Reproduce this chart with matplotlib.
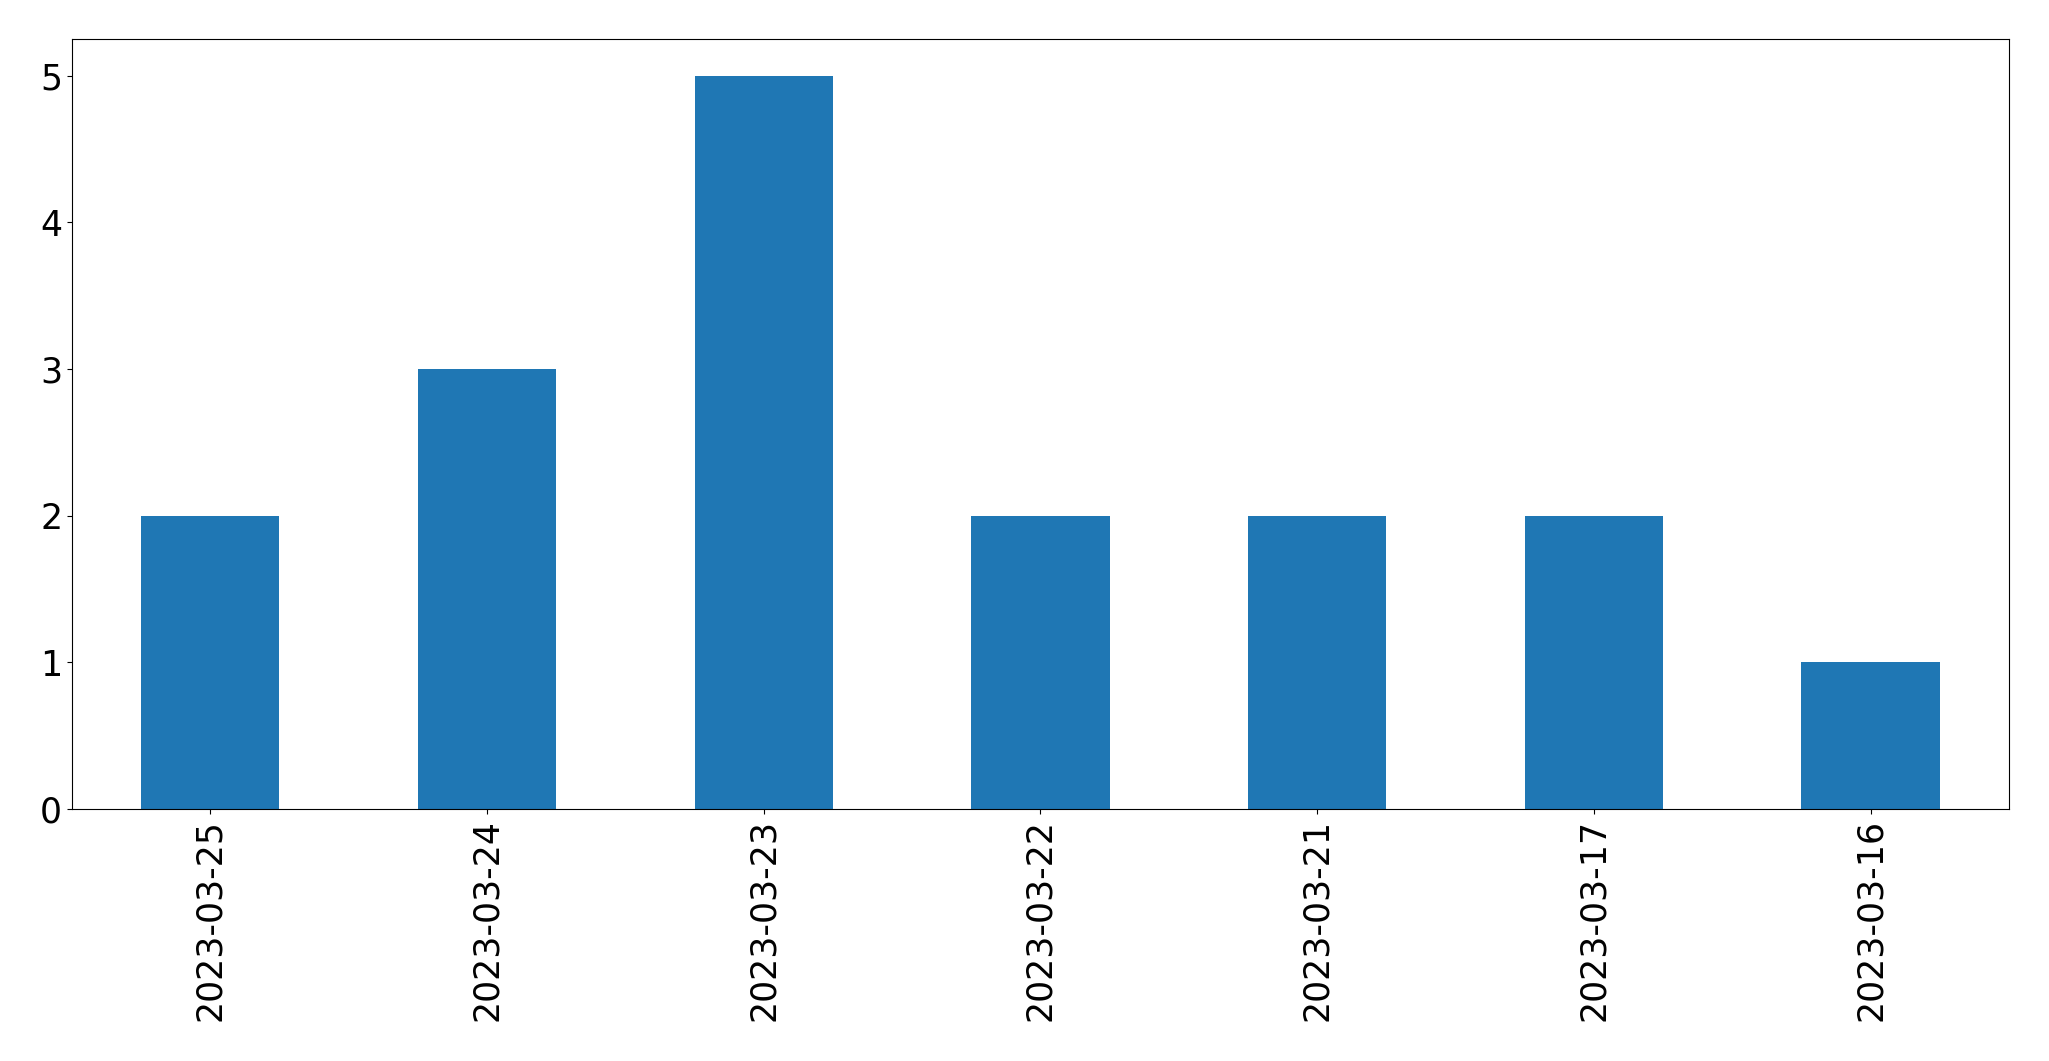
import matplotlib

matplotlib.use("Agg")
import matplotlib.pyplot as plt
import numpy as np

dates = ["2023-03-25", "2023-03-24", "2023-03-23", "2023-03-22",
         "2023-03-21", "2023-03-17", "2023-03-16"]
counts = [2, 3, 5, 2, 2, 2, 1]

fig = plt.figure(figsize=(20.49, 10.61), dpi=100)
ax = fig.add_axes([0.0351, 0.2375, 0.9454, 0.7257])

x = np.arange(len(dates))
ax.bar(x, counts, width=0.5, color="#1f77b4")
ax.set_xlim(-0.5, len(dates) - 0.5)
ax.set_ylim(0, max(counts) * 1.05)
ax.set_xticks(x)
ax.set_xticklabels(dates, rotation=90)
ax.tick_params(labelsize=25)

fig.savefig("out.png", dpi=100)
